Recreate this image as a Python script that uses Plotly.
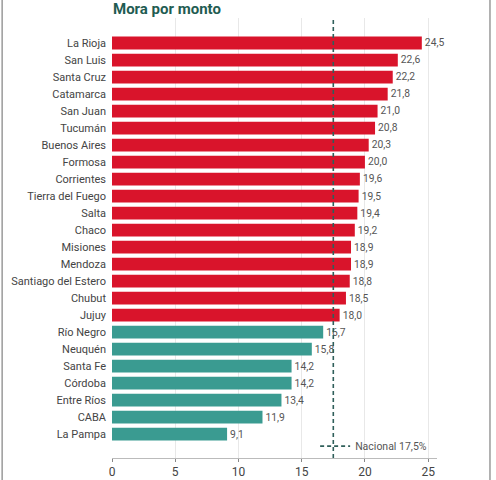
import plotly.graph_objects as go

provincias = [
    "La Rioja", "San Luis", "Santa Cruz", "Catamarca", "San Juan", "Tucumán",
    "Buenos Aires", "Formosa", "Corrientes", "Tierra del Fuego", "Salta", "Chaco",
    "Misiones", "Mendoza", "Santiago del Estero", "Chubut", "Jujuy", "Río Negro",
    "Neuquén", "Santa Fe", "Córdoba", "Entre Ríos", "CABA", "La Pampa",
]
mora = [
    24.5, 22.6, 22.2, 21.8, 21.0, 20.8, 20.3, 20.0, 19.6, 19.5, 19.4, 19.2,
    18.9, 18.9, 18.8, 18.5, 18.0, 16.7, 15.8, 14.2, 14.2, 13.4, 11.9, 9.1,
]
nacional = 17.5
ticks = [0, 5, 10, 15, 20, 25]

ROJO = "#d9142b"
VERDE = "#3a9b91"
LINEA = "#2f5f5a"

colores = [ROJO if v >= nacional else VERDE for v in mora]
etiquetas = [f"{v:.1f}".replace(".", ",") for v in mora]

fig = go.Figure()
fig.add_trace(go.Bar(
    x=mora,
    y=provincias,
    orientation="h",
    marker=dict(color=colores, line=dict(width=0)),
    text=etiquetas,
    textposition="outside",
    textfont=dict(size=10.5, color="#555555"),
    cliponaxis=False,
    showlegend=False,
    hoverinfo="skip",
))

# linea de referencia nacional (la traza vacia es solo para la leyenda)
fig.add_shape(type="line", x0=nacional, x1=nacional, xref="x", y0=0, y1=1, yref="paper",
              line=dict(color=LINEA, width=1.6, dash="4px,3px"))
fig.add_trace(go.Scatter(
    x=[None], y=[None], mode="lines",
    line=dict(color=LINEA, width=1.6, dash="4px,3px"),
    name=f"Nacional {nacional:.1f}%".replace(".", ","),
))

# marco gris de la captura
for xp in [-0.338, 1.163]:
    fig.add_shape(type="line", x0=xp, x1=xp, xref="paper", y0=-0.05, y1=1.05, yref="paper",
                  line=dict(color="#9a9a9a", width=1.5))

fig.update_layout(
    width=496,
    height=480,
    margin=dict(l=112, r=59, t=18, b=22, autoexpand=False),
    paper_bgcolor="white",
    plot_bgcolor="white",
    font=dict(family="Roboto, sans-serif", color="#444444", size=11),
    bargap=0.25,
    title=dict(
        text="<b>Mora por monto</b>",
        x=113 / 496, xref="container", xanchor="left",
        y=1 - 9 / 480, yref="container", yanchor="middle",
        font=dict(size=15, color="#1f5c52"),
    ),
    legend=dict(
        x=0.985, xanchor="right", y=-0.006, yanchor="bottom",
        bgcolor="rgba(0,0,0,0)", font=dict(size=10.5, color="#555555"),
        itemwidth=30,
    ),
    xaxis=dict(
        range=[0, 25.7],
        tickvals=ticks,
        showgrid=True, gridcolor="#e8e8e8", gridwidth=1,
        zeroline=False,
        showline=True, linecolor="#bbbbbb", linewidth=1,
        ticks="outside", ticklen=3, tickcolor="#888888",
        tickfont=dict(size=12, color="#444444"),
        automargin=False,
    ),
    yaxis=dict(
        categoryorder="array", categoryarray=provincias,
        range=[24.4, -1.47],
        showgrid=False, zeroline=False, showline=False,
        ticks="", ticklabelstandoff=5,
        tickfont=dict(size=11, color="#444444"),
        automargin=False,
    ),
)

# sin margen del body para que la figura ocupe toda la ventana
fig.write_html("out.html", config={"displayModeBar": False},
               post_script="document.body.style.margin='0';")
